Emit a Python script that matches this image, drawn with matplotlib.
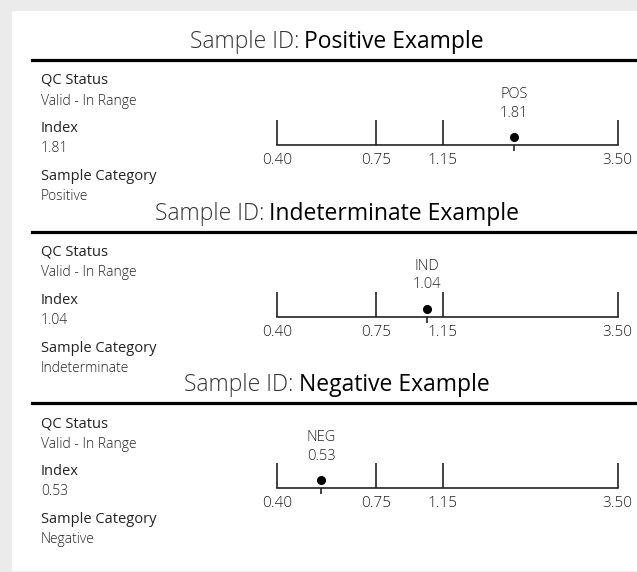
import matplotlib
matplotlib.use('Agg')
import matplotlib.pyplot as plt
from matplotlib.patches import Rectangle
from matplotlib.lines import Line2D
from matplotlib.ticker import FixedLocator, NullFormatter, FormatStrFormatter

plt.rcParams['font.family'] = ['Open Sans', 'DejaVu Sans']

# data
sample_ids = ['Positive Example', 'Indeterminate Example', 'Negative Example']
qc_status = ['Valid - In Range', 'Valid - In Range', 'Valid - In Range']
index_values = [1.81, 1.04, 0.53]
categories = ['Positive', 'Indeterminate', 'Negative']
short_codes = ['POS', 'IND', 'NEG']
cutoffs = [0.40, 0.75, 1.15, 3.50]

W, H = 637, 572
fig = plt.figure(figsize=(W / 100, H / 100), dpi=100)
fig.patch.set_facecolor('#ebebeb')


def fx(x):
    return x / W


def fy(y):
    return 1 - y / H


fig.add_artist(Rectangle((fx(12), fy(571)), fx(637 - 12), (571 - 11) / H,
                         transform=fig.transFigure, facecolor='white',
                         edgecolor='none', zorder=0))

txt = '#222222'
renderer = fig.canvas.get_renderer()

for i in range(len(sample_ids)):
    off = i * 171.5
    val = index_values[i]

    # title: "Sample ID:" light + name regular, centred on the rule
    t1 = fig.text(0, fy(48 + off), 'Sample ID:', fontsize=16.5, color='#333333',
                  fontweight='light', ha='left', va='baseline')
    t2 = fig.text(0, fy(48 + off), sample_ids[i], fontsize=16.5, color='black',
                  fontweight='normal', ha='left', va='baseline')
    w1 = t1.get_window_extent(renderer).width
    w2 = t2.get_window_extent(renderer).width
    gap = 5
    left = 337 - (w1 + gap + w2) / 2
    t1.set_x(fx(left))
    t2.set_x(fx(left + w1 + gap))

    fig.add_artist(Line2D([fx(32), fx(637)], [fy(60 + off)] * 2,
                          transform=fig.transFigure, color='black', lw=2.3))

    # left info column
    rows = [('QC Status', 84, True), (qc_status[i], 105, False),
            ('Index', 132, True), (f'{val:.2f}', 152, False),
            ('Sample Category', 180, True), (categories[i], 200, False)]
    for label, y, bold in rows:
        fig.text(fx(41), fy(y + off), label, fontsize=10.5 if bold else 10,
                 fontweight='medium' if bold else 'light', color=txt,
                 ha='left', va='baseline')

    # index scale
    ax = fig.add_axes([fx(277), fy(145 + off), fx(617.5 - 277), 65 / H])
    ax.patch.set_alpha(0)
    ax.set_xscale('log')
    ax.set_xlim(cutoffs[0], cutoffs[-1])
    ax.set_ylim(0, 65)
    for s in ['top', 'left', 'right']:
        ax.spines[s].set_visible(False)
    ax.spines['bottom'].set_color(txt)
    ax.spines['bottom'].set_linewidth(1.2)
    ax.set_yticks([])
    ax.xaxis.set_major_locator(FixedLocator(cutoffs))
    ax.xaxis.set_major_formatter(FormatStrFormatter('%.2f'))
    ax.xaxis.set_minor_locator(FixedLocator([val]))
    ax.xaxis.set_minor_formatter(NullFormatter())
    ax.tick_params(which='major', direction='in', length=18, width=1.2,
                   color=txt, pad=6, labelsize=11, labelcolor=txt)
    ax.tick_params(which='minor', direction='out', length=4, width=1.2,
                   color=txt)
    for lab in ax.get_xticklabels():
        lab.set_fontweight('light')

    ax.plot(val, 8, 'o', color='black', ms=5.5, clip_on=False)
    ax.text(val, 47, short_codes[i], ha='center', va='baseline',
            fontsize=10.5, fontweight='light', color=txt)
    ax.text(val, 28, f'{val:.2f}', ha='center', va='baseline',
            fontsize=10.5, fontweight='light', color=txt)

fig.savefig('out.png', dpi=100)
